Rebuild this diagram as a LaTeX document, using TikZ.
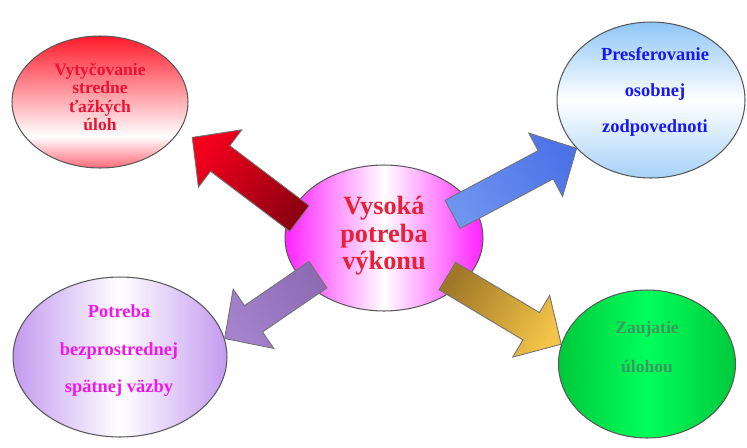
\documentclass[tikz,border=0pt]{standalone}
\usepackage{fontspec}
\setmainfont{Liberation Serif}
\usetikzlibrary{shapes.geometric,calc}

\definecolor{vyttop}{HTML}{FF1A2A}
\definecolor{vytbot}{HTML}{FF6A78}
\definecolor{preftop}{HTML}{8EC6F6}
\definecolor{prefbot}{HTML}{A6D2F8}
\definecolor{potside}{HTML}{C39AF0}
\definecolor{zauside}{HTML}{00C83C}
\definecolor{zaumid}{HTML}{00FF5A}
\definecolor{midside}{HTML}{FF22FF}
\definecolor{vyttxt}{HTML}{EE1133}
\definecolor{preftxt}{HTML}{1818F0}
\definecolor{pottxt}{HTML}{F018E8}
\definecolor{zautxt}{HTML}{3A9A5E}
\definecolor{midtxt}{HTML}{E8203A}
\definecolor{redtail}{HTML}{8E0010}
\definecolor{redtip}{HTML}{F2001C}
\definecolor{bluetail}{HTML}{6E94F0}
\definecolor{bluetip}{HTML}{4C72E8}
\definecolor{purtail}{HTML}{8E6CB4}
\definecolor{purtip}{HTML}{A482CC}
\definecolor{goldtail}{HTML}{A07828}
\definecolor{goldtip}{HTML}{F4C448}

\pgfdeclareverticalshading{vytfade}{100bp}{color(0bp)=(vytbot); color(25bp)=(vytbot); color(37bp)=(white); color(75bp)=(vyttop); color(100bp)=(vyttop)}

\newcommand{\fatarrow}[5]{%
  \coordinate (hb) at ($(#2)!0.7cm!(#1)$);
  \draw[blockarrow,bottom color=#3,top color=#4,shading angle=#5]
    ($(#1)!0.32cm!90:(#2)$) -- ($(hb)!0.32cm!90:(#2)$) -- ($(hb)!0.72cm!90:(#2)$) -- (#2)
    -- ($(hb)!0.72cm!-90:(#2)$) -- ($(hb)!0.32cm!-90:(#2)$) -- ($(#1)!0.32cm!-90:(#2)$) -- cycle;}

\begin{document}
\begin{tikzpicture}[x=0.02cm,y=-0.02cm,
  bubble/.style={ellipse,draw=black!65,line width=0.6pt,inner sep=0pt},
  blockarrow/.style={draw=black!55,line width=0.5pt},
  txt/.style={align=center,font=\bfseries\fontsize{10}{10.4}\selectfont}]
\useasboundingbox (0,0) rectangle (747,447);

\node[bubble,minimum width=3.96cm,minimum height=2.92cm,left color=midside,right color=midside,middle color=white] (mid) at (384,238) {};
\node[bubble,minimum width=3.52cm,minimum height=2.64cm,shading=vytfade] (vyt) at (100,102) {};
\node[bubble,minimum width=3.76cm,minimum height=3.12cm,top color=preftop,bottom color=prefbot,middle color=white] (pref) at (651,100) {};
\node[bubble,minimum width=4.28cm,minimum height=3.2cm,left color=potside,right color=potside,middle color=white] (pot) at (120,357) {};
\node[bubble,minimum width=3.54cm,minimum height=2.96cm,left color=zauside,right color=zauside,middle color=zaumid] (zau) at (647,364) {};

\coordinate (t1) at ($(mid)!.89!(mid.167)$);
\coordinate (t2) at ($(mid)!.76!(mid.19)$);
\coordinate (t3) at ($(mid)!.83!(mid.209)$);
\coordinate (t4) at ($(mid)!.82!(mid.-31)$);
\coordinate (h1) at ($(vyt)!1.17!(vyt.-21)$);
\coordinate (h2) at (pref.213.5);
\coordinate (h3) at (pot.10.5);
\coordinate (h4) at (zau.167.7);

\fatarrow{t1}{h1}{redtail}{redtip}{53}
\fatarrow{t2}{h2}{bluetail}{bluetip}{-62}
\fatarrow{t3}{h3}{purtail}{purtip}{124}
\fatarrow{t4}{h4}{goldtail}{goldtip}{-121}

\node[txt,text=midtxt,font=\bfseries\fontsize{15}{15.6}\selectfont] (midtext) at (384,236) {Vysoká\\potreba\\výkonu};
\node[txt,text=vyttxt] (vyttext) at (100,97) {Vytyčovanie\\stredne\\ťažkých\\úloh};
\node[txt,text=preftxt,font=\bfseries\fontsize{10.5}{20.7}\selectfont] (preftext) at (655,92) {Presferovanie\\osobnej\\zodpovednoti};
\node[txt,text=pottxt,font=\bfseries\fontsize{10.5}{21.3}\selectfont] (pottext) at (119,351) {Potreba\\bezprostrednej\\spätnej väzby};
\node[txt,text=zautxt,font=\bfseries\fontsize{10}{22}\selectfont] (zautext) at (647,347) {Zaujatie\\úlohou};
\end{tikzpicture}
\end{document}
